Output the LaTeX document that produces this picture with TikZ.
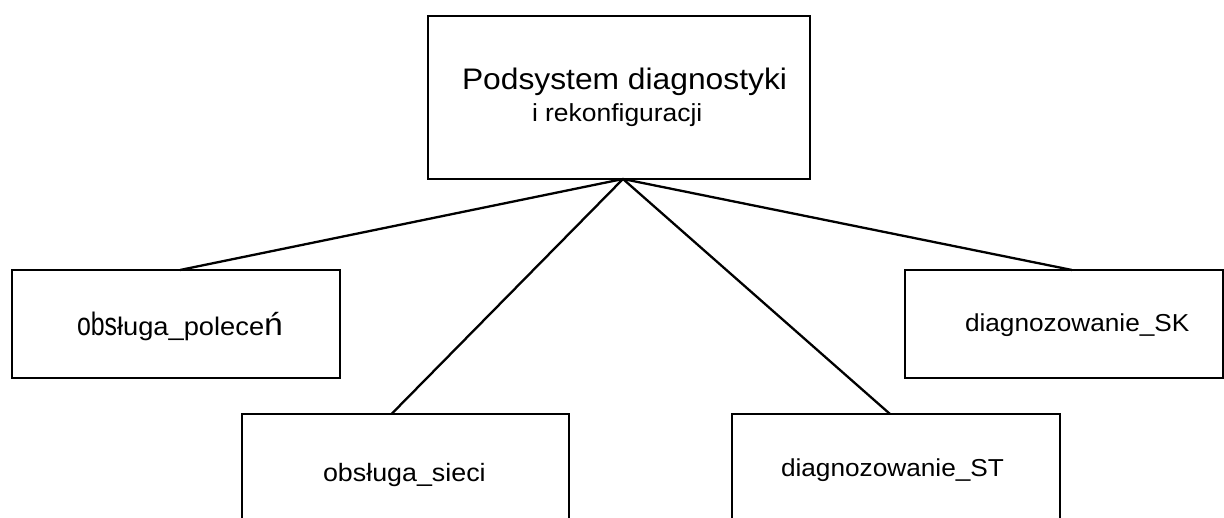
\documentclass[tikz,border=0pt]{standalone}
\usepackage{fontspec}
\usepackage{graphicx}
\setmainfont[FakeStretch=1.07]{Liberation Sans}
\begin{document}
\begin{tikzpicture}[x=1pt,y=-1pt,
  box/.style={draw,line width=2.8pt,inner sep=0pt,outer sep=0pt,anchor=north west,rectangle},
  link/.style={line width=2.3pt},
  lbl/.style={anchor=base west,inner sep=0pt,outer sep=0pt}]
\useasboundingbox (0,0) rectangle (1224,518);
\clip (0,0) rectangle (1224,518);
% boxes
\node[box,minimum width=382pt,minimum height=163pt] (top) at (428,16) {};
\node[box,minimum width=328pt,minimum height=108pt] (pol) at (12,270) {};
\node[box,minimum width=327pt,minimum height=160pt] (sieci) at (242,414) {};
\node[box,minimum width=328pt,minimum height=160pt] (st) at (732,414) {};
\node[box,minimum width=318pt,minimum height=108pt] (sk) at (905,270) {};
% texts
\node[lbl,font=\fontsize{29.7}{36}\selectfont] (t1) at (462,90) {Podsystem diagnostyki};
\node[lbl,font=\fontsize{24.7}{29}\selectfont] (t2) at (532,122) {i rekonfiguracji};
\node[lbl,font=\fontsize{27}{32}\selectfont] (tpol) at (77,336)
  {\scalebox{0.86}[1.2]{obs}{\fontsize{25.5}{30}\selectfont ługa\_polece}{\fontsize{30}{36}\selectfont\scalebox{1.05}[1.05]{ń}}};
\node[lbl,font=\fontsize{25.1}{30}\selectfont] (tsieci) at (323,482) {obsługa\_sieci};
\node[lbl,font=\fontsize{24.5}{30}\selectfont] (tst) at (781,477) {diagnozowanie\_ST};
\node[lbl,font=\fontsize{24.5}{30}\selectfont] (tsk) at (965,332) {diagnozowanie\_SK};
% connectors from the apex under the top box
\coordinate (apex) at ([xshift=4pt]top.south);
\draw[link] (apex) -- ([xshift=4pt]pol.north);
\draw[link] (apex) -- ([xshift=-14pt]sieci.north);
\draw[link] (apex) -- ([xshift=-6pt]st.north);
\draw[link] (apex) -- ([xshift=8pt]sk.north);
\end{tikzpicture}
\end{document}
